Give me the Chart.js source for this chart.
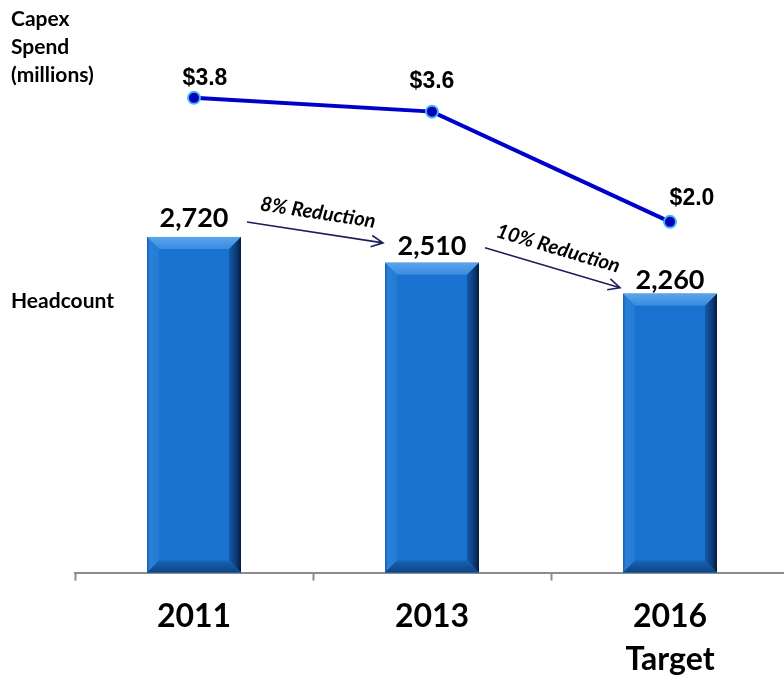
<!DOCTYPE html>
<html>
<head>
<meta charset="utf-8">
<script src="https://cdn.jsdelivr.net/npm/chart.js@4"></script>
<style>
  html, body { margin:0; padding:0; background:#fff; overflow:hidden; }
  #wrap { position:relative; width:800px; height:700px; }
  .side { position:absolute; left:11px; font:bold 21px Lato, sans-serif; color:#000; line-height:28px; }
</style>
</head>
<body>
<div id="wrap">
  <canvas id="chart" width="800" height="700"></canvas>
  <div class="side" style="top:4px">Capex<br>Spend<br>(millions)</div>
  <div class="side" style="top:286px">Headcount</div>
</div>
<script>
// ── data ──
const years      = ['2011', '2013', ['2016', 'Target']];
const headcount  = [2720, 2510, 2260];
const capex      = [3.8, 3.6, 2.0];
const reductions = ['8% Reduction', '10% Reduction'];

const fmtHead  = v => v.toLocaleString('en-US');
const fmtCapex = v => '$' + v.toFixed(1);

// bevelled look for the headcount bars
function bevelBars(chart) {
  const ctx = chart.ctx;
  chart.getDatasetMeta(0).data.forEach(bar => {
    const w = bar.width, x0 = bar.x - w/2, x1 = bar.x + w/2, y0 = bar.y, y1 = bar.base;
    const b = 12;
    ctx.save();
    // face
    ctx.fillStyle = '#1a72d0';
    ctx.fillRect(x0, y0, w, y1-y0);
    // top
    let g = ctx.createLinearGradient(0, y0, 0, y0+b);
    g.addColorStop(0, '#5aa5ec'); g.addColorStop(1, '#3a8be0');
    ctx.fillStyle = g;
    ctx.beginPath(); ctx.moveTo(x0,y0); ctx.lineTo(x1,y0); ctx.lineTo(x1-b,y0+b); ctx.lineTo(x0+b,y0+b); ctx.closePath(); ctx.fill();
    // left
    g = ctx.createLinearGradient(x0, 0, x0+b, 0);
    g.addColorStop(0, '#1560b4'); g.addColorStop(0.25, '#2b80d8'); g.addColorStop(1, '#237bd4');
    ctx.fillStyle = g;
    ctx.beginPath(); ctx.moveTo(x0,y0); ctx.lineTo(x0+b,y0+b); ctx.lineTo(x0+b,y1-b); ctx.lineTo(x0,y1); ctx.closePath(); ctx.fill();
    // right
    g = ctx.createLinearGradient(x1-b, 0, x1, 0);
    g.addColorStop(0, '#145aa8'); g.addColorStop(0.6, '#0b3b78'); g.addColorStop(1, '#061a36');
    ctx.fillStyle = g;
    ctx.beginPath(); ctx.moveTo(x1,y0); ctx.lineTo(x1-b,y0+b); ctx.lineTo(x1-b,y1-b); ctx.lineTo(x1,y1); ctx.closePath(); ctx.fill();
    // bottom
    g = ctx.createLinearGradient(0, y1-b, 0, y1);
    g.addColorStop(0, '#1762b8'); g.addColorStop(1, '#0d447f');
    ctx.fillStyle = g;
    ctx.beginPath(); ctx.moveTo(x0,y1); ctx.lineTo(x0+b,y1-b); ctx.lineTo(x1-b,y1-b); ctx.lineTo(x1,y1); ctx.closePath(); ctx.fill();
    ctx.restore();
  });
}

function arrow(ctx, sx, sy, ex, ey) {
  const a = Math.atan2(ey-sy, ex-sx), h = 13;
  ctx.beginPath();
  ctx.moveTo(sx, sy); ctx.lineTo(ex, ey);
  ctx.moveTo(ex - h*Math.cos(a-0.45), ey - h*Math.sin(a-0.45));
  ctx.lineTo(ex, ey);
  ctx.lineTo(ex - h*Math.cos(a+0.45), ey - h*Math.sin(a+0.45));
  ctx.stroke();
}

const overlay = {
  id: 'overlay',
  afterDatasetDraw(chart, args) { if (args.index === 0) bevelBars(chart); },
  afterDatasetsDraw(chart) {
    const ctx = chart.ctx;
    const bars = chart.getDatasetMeta(0).data;
    const pts  = chart.getDatasetMeta(1).data;
    ctx.save();
    ctx.fillStyle = '#000';
    ctx.textAlign = 'center';
    ctx.textBaseline = 'alphabetic';

    // headcount values
    ctx.font = 'bold 27px Lato, sans-serif';
    const headDy = [10, 8, 5];
    bars.forEach((b, i) => ctx.fillText(fmtHead(headcount[i]), b.x, b.y - headDy[i]));

    // capex values
    ctx.font = 'bold 23px "Liberation Sans", Arial, sans-serif';
    const capDx = [11, 0, 22], capDy = [13, 24, 17];
    pts.forEach((p, i) => ctx.fillText(fmtCapex(capex[i]), p.x + capDx[i], p.y - capDy[i]));

    // reduction arrows between bars
    const arr = [{ sy: -15, ey: -20, ex: -2 }, { sy: -15, ey: -6, ex: -3 }];
    ctx.strokeStyle = '#1e1e5a';
    ctx.lineWidth = 1.6;
    ctx.font = 'italic bold 20px Lato, sans-serif';
    reductions.forEach((txt, i) => {
      const a = bars[i], b = bars[i+1];
      const sx = a.x + a.width/2 + 6, sy = a.y + arr[i].sy;
      const ex = b.x - b.width/2 + arr[i].ex, ey = b.y + arr[i].ey;
      arrow(ctx, sx, sy, ex, ey);
      const ang = Math.atan2(ey-sy, ex-sx);
      ctx.save();
      ctx.translate((sx+ex)/2, (sy+ey)/2);
      ctx.rotate(ang);
      ctx.textBaseline = 'middle';
      ctx.fillText(txt, 0, -20);
      ctx.restore();
    });
    ctx.restore();
  }
};

new Chart(document.getElementById('chart'), {
  data: {
    labels: years,
    datasets: [
      { type: 'bar', data: headcount, yAxisID: 'yHead', backgroundColor: '#1a72d0',
        barPercentage: 0.395, categoryPercentage: 1, order: 1 },
      { type: 'line', data: capex, yAxisID: 'yCapex', borderColor: '#0000cc', borderWidth: 4,
        pointRadius: 6, pointBackgroundColor: '#0000b8', pointBorderColor: '#40b8f0', pointBorderWidth: 2,
        tension: 0, order: 0 }
    ]
  },
  options: {
    responsive: false, animation: false,
    layout: { autoPadding: false, padding: { left: 75, right: 11, top: 0, bottom: 5 } },
    plugins: { legend: { display: false }, tooltip: { enabled: false } },
    scales: {
      x: {
        offset: true,
        grid: { drawOnChartArea: false, offset: true, tickLength: 8, tickColor: '#8c8c8c', tickWidth: 2 },
        border: { color: '#8c8c8c', width: 2 },
        ticks: { color: '#000', padding: 14, maxRotation: 0,
                 font: { family: 'Lato', size: 32, weight: 'bold', lineHeight: 1.35 } }
      },
      yHead:  { display: false, min: 0, max: 4640 },
      yCapex: { display: false, min: -3.09, max: 5.22 }
    }
  },
  plugins: [overlay]
});
</script>
</body>
</html>
